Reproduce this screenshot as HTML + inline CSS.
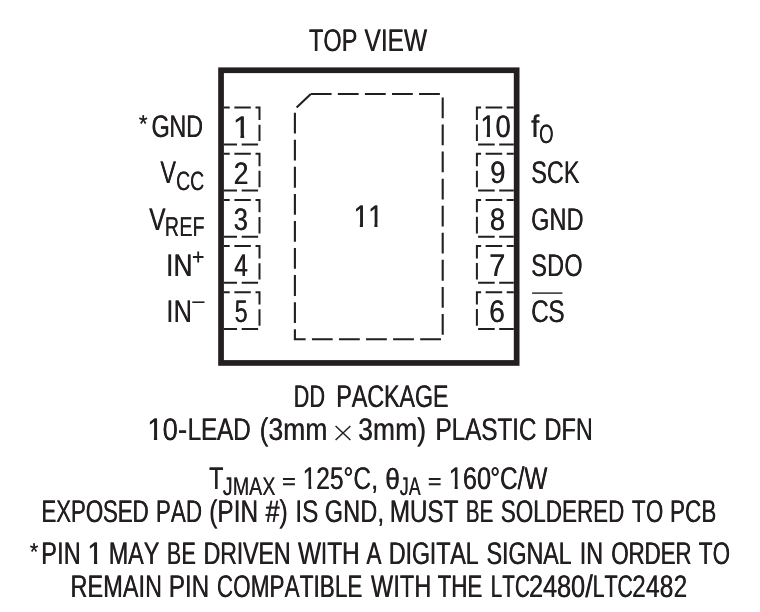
<!DOCTYPE html>
<html><head><meta charset="utf-8"><title>Pin Configuration</title>
<style>
html,body{margin:0;padding:0;background:#fff;}
body{width:760px;height:612px;overflow:hidden;}
svg{display:block;will-change:transform;text-rendering:geometricPrecision;}
text{font-family:"Liberation Sans",sans-serif;fill:#231f20;font-kerning:none;}
</style></head>
<body>
<svg width="760" height="612" viewBox="0 0 760 612">
<rect width="760" height="612" fill="#ffffff"/>
<rect x="221.05" y="70.25" width="295.60" height="292.70" fill="none" stroke="#231f20" stroke-width="5.7"/>
<path d="M223.8,107.60 H259.5 V144.40 H223.8" fill="none" stroke="#231f20" stroke-width="2.0" stroke-dasharray="16.4 4.7" stroke-dashoffset="10.5"/>
<path d="M513.8,107.60 H476.9 V144.40 H513.8" fill="none" stroke="#231f20" stroke-width="2.0" stroke-dasharray="16.6 4.5" stroke-dashoffset="9.5"/>
<path d="M223.8,153.75 H259.5 V190.55 H223.8" fill="none" stroke="#231f20" stroke-width="2.0" stroke-dasharray="16.4 4.7" stroke-dashoffset="10.5"/>
<path d="M513.8,153.75 H476.9 V190.55 H513.8" fill="none" stroke="#231f20" stroke-width="2.0" stroke-dasharray="16.6 4.5" stroke-dashoffset="9.5"/>
<path d="M223.8,199.90 H259.5 V236.70 H223.8" fill="none" stroke="#231f20" stroke-width="2.0" stroke-dasharray="16.4 4.7" stroke-dashoffset="10.5"/>
<path d="M513.8,199.90 H476.9 V236.70 H513.8" fill="none" stroke="#231f20" stroke-width="2.0" stroke-dasharray="16.6 4.5" stroke-dashoffset="9.5"/>
<path d="M223.8,246.05 H259.5 V282.85 H223.8" fill="none" stroke="#231f20" stroke-width="2.0" stroke-dasharray="16.4 4.7" stroke-dashoffset="10.5"/>
<path d="M513.8,246.05 H476.9 V282.85 H513.8" fill="none" stroke="#231f20" stroke-width="2.0" stroke-dasharray="16.6 4.5" stroke-dashoffset="9.5"/>
<path d="M223.8,292.20 H259.5 V329.00 H223.8" fill="none" stroke="#231f20" stroke-width="2.0" stroke-dasharray="16.4 4.7" stroke-dashoffset="10.5"/>
<path d="M513.8,292.20 H476.9 V329.00 H513.8" fill="none" stroke="#231f20" stroke-width="2.0" stroke-dasharray="16.6 4.5" stroke-dashoffset="9.5"/>
<path d="M294.9,112.7 V339.3 H442.7 V94 H310.8" fill="none" stroke="#231f20" stroke-width="2.1" stroke-dasharray="20.8 6.267"/>
<path d="M310.8,94 L296.6,107.6" fill="none" stroke="#231f20" stroke-width="2.1"/>
<path d="M192.9,257 H203.5 M198.2,251.6 V262.4" fill="none" stroke="#231f20" stroke-width="1.8"/>
<path d="M192.3,302.2 H204.5" fill="none" stroke="#231f20" stroke-width="1.6"/>
<path d="M532.1,293.1 H562.4" fill="none" stroke="#231f20" stroke-width="1.4"/>
<path d="M335.6,426.0 L350.4,440.0 M350.4,426.0 L335.6,440.0" fill="none" stroke="#231f20" stroke-width="1.5"/>
<path d="M283,479.0 H294.9 M283,484.3 H294.9" fill="none" stroke="#231f20" stroke-width="1.9"/>
<path d="M428.8,479.0 H440.6 M428.8,484.3 H440.6" fill="none" stroke="#231f20" stroke-width="1.9"/>
<g id="txt" font-size="1000">
<g transform="translate(308.77,51.00) scale(0.023580,0.031396)"><text x="0.0" xml:space="preserve">TOP</text></g>
<g transform="translate(364.29,51.00) scale(0.024491,0.031396)"><text x="0.0" xml:space="preserve">VIEW</text></g>
<g transform="translate(151.24,137.00) scale(0.023117,0.031396)"><text x="0.0" xml:space="preserve">GND</text></g>
<g transform="translate(160.20,183.00) scale(0.023549,0.031396)"><text x="0.0" xml:space="preserve">V</text></g>
<g transform="translate(148.99,230.00) scale(0.024005,0.031396)"><text x="0.0" xml:space="preserve">V</text></g>
<g transform="translate(165.95,276.00) scale(0.026508,0.031396)"><text x="0.0" xml:space="preserve">IN</text></g>
<g transform="translate(166.22,322.00) scale(0.025782,0.031396)"><text x="0.0" xml:space="preserve">IN</text></g>
<g transform="translate(232.76,138.00) scale(0.031602,0.031396)"><text x="0.0">1</text></g>
<g transform="translate(233.59,184.00) scale(0.026121,0.031396)"><text x="0.0" xml:space="preserve">2</text></g>
<g transform="translate(233.62,230.00) scale(0.025732,0.031396)"><text x="0.0" xml:space="preserve">3</text></g>
<g transform="translate(234.04,276.00) scale(0.024608,0.031396)"><text x="0.0" xml:space="preserve">4</text></g>
<g transform="translate(234.38,322.00) scale(0.022990,0.031396)"><text x="0.0" xml:space="preserve">5</text></g>
<g transform="translate(480.19,137.00) scale(0.027122,0.031396)"><text x="0.0">1</text><text x="556.2" xml:space="preserve">0</text></g>
<g transform="translate(490.02,183.00) scale(0.027278,0.031396)"><text x="0.0" xml:space="preserve">9</text></g>
<g transform="translate(489.70,230.00) scale(0.027704,0.031396)"><text x="0.0" xml:space="preserve">8</text></g>
<g transform="translate(488.91,276.00) scale(0.029037,0.031396)"><text x="0.0" xml:space="preserve">7</text></g>
<g transform="translate(488.95,322.00) scale(0.028607,0.031396)"><text x="0.0" xml:space="preserve">6</text></g>
<g transform="translate(353.49,227.00) scale(0.026131,0.031396)"><text x="0.0">1</text><text x="556.2">1</text></g>
<g transform="translate(530.88,137.00) scale(0.029419,0.031396)"><text x="0.0" xml:space="preserve">f</text></g>
<g transform="translate(531.03,183.00) scale(0.023506,0.031396)"><text x="0.0" xml:space="preserve">SCK</text></g>
<g transform="translate(530.91,230.00) scale(0.023681,0.031396)"><text x="0.0" xml:space="preserve">GND</text></g>
<g transform="translate(531.02,276.00) scale(0.023870,0.031396)"><text x="0.0" xml:space="preserve">SDO</text></g>
<g transform="translate(530.88,322.00) scale(0.023985,0.031396)"><text x="0.0" xml:space="preserve">CS</text></g>
<g transform="translate(293.52,407.00) scale(0.021758,0.031396)"><text x="0.0" xml:space="preserve">DD</text></g>
<g transform="translate(336.10,407.00) scale(0.023164,0.031396)"><text x="0.0" xml:space="preserve">PACKAGE</text></g>
<g transform="translate(147.27,440.00) scale(0.027327,0.031396)"><text x="0.0">1</text><text x="556.2" xml:space="preserve">0</text></g>
<g transform="translate(177.64,440.00) scale(0.028262,0.031396)"><text x="0.0" xml:space="preserve">-</text></g>
<g transform="translate(187.43,440.00) scale(0.024049,0.031396)"><text x="0.0" xml:space="preserve">LEAD</text></g>
<g transform="translate(259.45,440.00) scale(0.026532,0.031396)"><text x="0.0" xml:space="preserve">(3mm</text></g>
<g transform="translate(358.09,440.00) scale(0.026557,0.031396)"><text x="0.0" xml:space="preserve">3mm)</text></g>
<g transform="translate(435.32,440.00) scale(0.024186,0.031396)"><text x="0.0" xml:space="preserve">PLASTIC</text></g>
<g transform="translate(544.37,440.00) scale(0.023472,0.031396)"><text x="0.0" xml:space="preserve">DFN</text></g>
<g transform="translate(208.88,489.00) scale(0.022991,0.031396)"><text x="0.0" xml:space="preserve">T</text></g>
<g transform="translate(302.44,489.00) scale(0.024571,0.031396)"><text x="0.0">1</text><text x="556.2" xml:space="preserve">25</text></g>
<g transform="translate(343.33,489.00) scale(0.024710,0.031396)"><text x="0.0" xml:space="preserve">°C,</text></g>
<g transform="translate(385.02,489.00) scale(0.026732,0.029506)"><text x="0.0" xml:space="preserve">θ</text></g>
<g transform="translate(448.45,489.00) scale(0.025502,0.031396)"><text x="0.0">1</text><text x="556.2" xml:space="preserve">60</text></g>
<g transform="translate(490.05,489.00) scale(0.024378,0.031396)"><text x="0.0" xml:space="preserve">°C/W</text></g>
<g transform="translate(41.18,522.00) scale(0.022146,0.031396)"><text x="0.0" xml:space="preserve">EXPOSED</text></g>
<g transform="translate(155.66,522.00) scale(0.022479,0.031396)"><text x="0.0" xml:space="preserve">PAD</text></g>
<g transform="translate(209.09,522.00) scale(0.024401,0.031396)"><text x="0.0" xml:space="preserve">(PIN</text></g>
<g transform="translate(265.29,522.00) scale(0.025038,0.031396)"><text x="0.0" xml:space="preserve">#)</text></g>
<g transform="translate(295.16,522.00) scale(0.024298,0.031396)"><text x="0.0" xml:space="preserve">IS</text></g>
<g transform="translate(324.61,522.00) scale(0.023730,0.031396)"><text x="0.0" xml:space="preserve">GND,</text></g>
<g transform="translate(389.52,522.00) scale(0.024193,0.031396)"><text x="0.0" xml:space="preserve">MUST</text></g>
<g transform="translate(465.72,522.00) scale(0.020513,0.031396)"><text x="0.0" xml:space="preserve">BE</text></g>
<g transform="translate(500.58,522.00) scale(0.022466,0.031396)"><text x="0.0" xml:space="preserve">SOLDERED</text></g>
<g transform="translate(631.69,522.00) scale(0.022831,0.031396)"><text x="0.0" xml:space="preserve">TO</text></g>
<g transform="translate(669.75,522.00) scale(0.022588,0.031396)"><text x="0.0" xml:space="preserve">PCB</text></g>
<g transform="translate(41.05,564.00) scale(0.023746,0.031396)"><text x="0.0" xml:space="preserve">PIN</text></g>
<g transform="translate(87.25,564.00) scale(0.027498,0.031396)"><text x="0.0">1</text></g>
<g transform="translate(108.59,564.00) scale(0.023267,0.031396)"><text x="0.0" xml:space="preserve">MAY</text></g>
<g transform="translate(166.71,564.00) scale(0.021837,0.031396)"><text x="0.0" xml:space="preserve">BE</text></g>
<g transform="translate(203.32,564.00) scale(0.022962,0.031396)"><text x="0.0" xml:space="preserve">DRIVEN</text></g>
<g transform="translate(297.79,564.00) scale(0.023980,0.031396)"><text x="0.0" xml:space="preserve">WITH</text></g>
<g transform="translate(366.26,564.00) scale(0.022622,0.031396)"><text x="0.0" xml:space="preserve">A</text></g>
<g transform="translate(388.61,564.00) scale(0.023050,0.031396)"><text x="0.0" xml:space="preserve">DIGITAL</text></g>
<g transform="translate(486.35,564.00) scale(0.023152,0.031396)"><text x="0.0" xml:space="preserve">SIGNAL</text></g>
<g transform="translate(579.54,564.00) scale(0.023361,0.031396)"><text x="0.0" xml:space="preserve">IN</text></g>
<g transform="translate(611.05,564.00) scale(0.022203,0.031396)"><text x="0.0" xml:space="preserve">ORDER</text></g>
<g transform="translate(698.59,564.00) scale(0.022680,0.031396)"><text x="0.0" xml:space="preserve">TO</text></g>
<g transform="translate(70.27,597.00) scale(0.023567,0.031396)"><text x="0.0" xml:space="preserve">REMAIN</text></g>
<g transform="translate(168.62,597.00) scale(0.024145,0.031396)"><text x="0.0" xml:space="preserve">PIN</text></g>
<g transform="translate(216.65,597.00) scale(0.022591,0.031396)"><text x="0.0" xml:space="preserve">COMPATIBLE</text></g>
<g transform="translate(370.80,597.00) scale(0.023656,0.031396)"><text x="0.0" xml:space="preserve">WITH</text></g>
<g transform="translate(437.40,597.00) scale(0.022331,0.031396)"><text x="0.0" xml:space="preserve">THE</text></g>
<g transform="translate(490.49,597.00) scale(0.020859,0.031396)"><text x="0.0" xml:space="preserve">LTC</text></g>
<g transform="translate(528.84,597.00) scale(0.025149,0.031396)"><text x="0.0" xml:space="preserve">2480</text></g>
<g transform="translate(585.10,597.00) scale(0.026995,0.031396)"><text x="0.0" xml:space="preserve">/</text></g>
<g transform="translate(592.46,597.00) scale(0.021198,0.031396)"><text x="0.0" xml:space="preserve">LTC</text></g>
<g transform="translate(631.95,597.00) scale(0.024858,0.031396)"><text x="0.0" xml:space="preserve">2482</text></g>
</g>
<use href="#txt" x="0.4"/>
<g id="sub" font-size="1000">
<g transform="translate(138.73,132.00) scale(0.022802,0.023983)"><text x="0.0" xml:space="preserve">*</text></g>
<g transform="translate(175.92,190.00) scale(0.019366,0.026454)"><text x="0.0" xml:space="preserve">CC</text></g>
<g transform="translate(164.87,236.00) scale(0.019836,0.026890)"><text x="0.0" xml:space="preserve">REF</text></g>
<g transform="translate(539.12,143.00) scale(0.018678,0.026454)"><text x="0.0" xml:space="preserve">O</text></g>
<g transform="translate(222.79,495.00) scale(0.019750,0.025582)"><text x="0.0" xml:space="preserve">JMAX</text></g>
<g transform="translate(399.82,495.00) scale(0.018053,0.025582)"><text x="0.0" xml:space="preserve">JA</text></g>
<g transform="translate(29.76,560.00) scale(0.021123,0.023983)"><text x="0.0" xml:space="preserve">*</text></g>
</g>
<use href="#sub" x="0.25"/>
<g fill="#ffffff">
<path transform="translate(232.76,138.00) scale(0.031602,0.031396)" d="M50.0,-110h193v130h-193zM360.7,-110h200v130h-200z"/>
<path transform="translate(480.19,137.00) scale(0.027122,0.031396)" d="M50.0,-110h193v130h-193zM362.7,-110h200v130h-200z"/>
<path transform="translate(353.49,227.00) scale(0.026131,0.031396)" d="M50.0,-110h193v130h-193zM363.3,-110h200v130h-200zM606.2,-110h193v130h-193zM919.5,-110h200v130h-200z"/>
<path transform="translate(147.27,440.00) scale(0.027327,0.031396)" d="M50.0,-110h193v130h-193zM362.6,-110h200v130h-200z"/>
<path transform="translate(302.44,489.00) scale(0.024571,0.031396)" d="M50.0,-110h193v130h-193zM364.3,-110h200v130h-200z"/>
<path transform="translate(448.45,489.00) scale(0.025502,0.031396)" d="M50.0,-110h193v130h-193zM363.7,-110h200v130h-200z"/>
<path transform="translate(87.25,564.00) scale(0.027498,0.031396)" d="M50.0,-110h193v130h-193zM362.5,-110h200v130h-200z"/>
</g>
</svg>
</body></html>
